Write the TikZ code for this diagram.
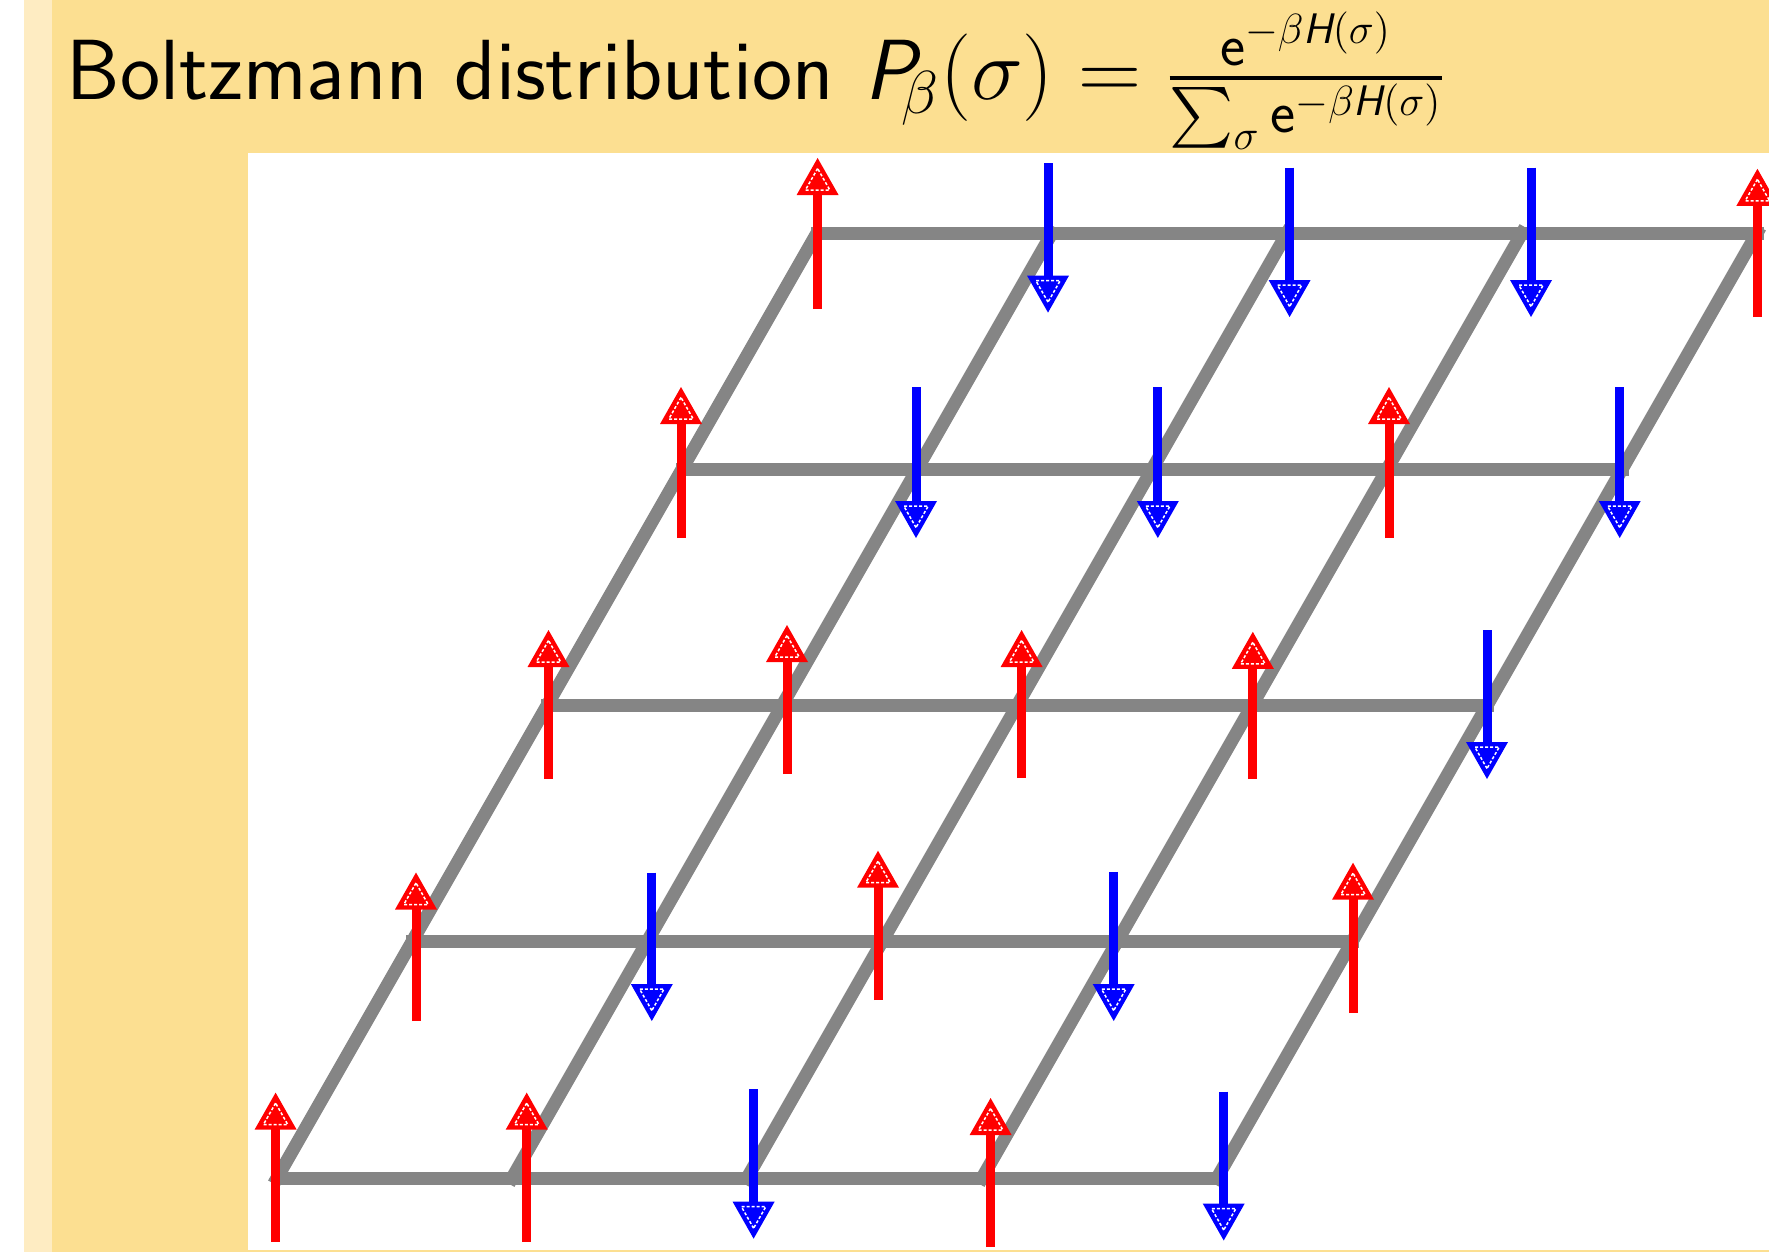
\documentclass[tikz,border=0pt]{standalone}
\usepackage{amsmath}
\definecolor{slideyellow}{RGB}{252,223,145}
\definecolor{slidelight}{RGB}{254,236,194}
\definecolor{latgray}{RGB}{133,133,133}
\definecolor{spinred}{RGB}{255,0,0}
\definecolor{spinblue}{RGB}{0,0,255}
\newcommand\sfit[1]{\text{\sffamily\slshape #1}}
\newcommand\sfup[1]{\text{\sffamily #1}}
\tikzset{
  latline/.style={draw=latgray, line width=1.3mm, line cap=rect},
  shaft/.style={line width=0.9mm},
  innerdash/.style={draw=white, line width=0.15mm, dash pattern=on 0.3mm off 0.2mm},
  heading/.style={anchor=base west, inner sep=0pt, font=\sffamily\fontsize{24.3}{29}\selectfont},
}
% up spin: x, tip y, tail y
\newcommand\upspin[3]{%
  \draw[spinred, shaft] (#1,#3) -- (#1,#2+30);
  \fill[spinred] (#1,#2) -- (#1-21,#2+37) -- (#1+21,#2+37) -- cycle;
  \draw[innerdash] (#1,#2+10.5) -- (#1-12.2,#2+32) -- (#1+12.2,#2+32) -- cycle;
}
% down spin: x, tail y, tip y
\newcommand\downspin[3]{%
  \draw[spinblue, shaft] (#1,#2) -- (#1,#3-30);
  \fill[spinblue] (#1,#3) -- (#1-21,#3-37) -- (#1+21,#3-37) -- cycle;
  \draw[innerdash] (#1,#3-10.5) -- (#1-12.2,#3-32) -- (#1+12.2,#3-32) -- cycle;
}
\begin{document}
\begin{tikzpicture}[x=0.1mm,y=-0.1mm]
\useasboundingbox (0,0) rectangle (1769,1252);
\clip (0,0) rectangle (1769,1252);
% slide background
\fill[white] (0,0) rectangle (24,1252);
\fill[slidelight] (24,0) rectangle (52,1252);
\fill[slideyellow] (52,0) rectangle (1769,1252);
\fill[white] (248,153) rectangle (1769,1250);
% heading line
\node[heading] (title) at (66,100) {Boltzmann distribution};
\node[heading] (formula) at (864,100)
  {$\sfit{P}\!_\beta(\sigma) = \frac{\sfup{e}^{-\beta \sfit{H}(\sigma)}}{\sum_\sigma \sfup{e}^{-\beta \sfit{H}(\sigma)}}$};
% lattice vertices
\foreach \i in {0,...,4}{
  \foreach \j in {0,...,4}{
    \coordinate (v-\i-\j) at ({277+235*\i+135*\j},{1178-236.25*\j});
  }
}
\foreach \j in {0,...,4}{ \draw[latline] (v-0-\j) -- (v-4-\j); }
\foreach \i in {0,...,4}{ \draw[latline] (v-\i-0) -- (v-\i-4); }
% spins, row 4 (top)
\upspin{817.6}{158}{309}
\downspin{1048}{163.5}{312.6}
\downspin{1289.6}{167.7}{317}
\downspin{1531}{167.7}{317}
\upspin{1757.4}{168.8}{317}
% row 3
\upspin{681}{387}{538}
\downspin{916}{387}{538}
\downspin{1157.8}{387}{538}
\upspin{1389}{387}{538}
\downspin{1619.7}{387}{538}
% row 2
\upspin{548.5}{630}{779}
\upspin{787}{625}{774}
\upspin{1021.6}{630}{778}
\upspin{1252.8}{631.8}{779}
\downspin{1487}{630}{779}
% row 1
\upspin{416}{872.5}{1021}
\downspin{651.8}{872.5}{1021}
\upspin{878}{850.7}{1000}
\downspin{1113.7}{871.8}{1021}
\upspin{1353}{862.7}{1013}
% row 0 (bottom)
\upspin{275.6}{1092.6}{1241.5}
\upspin{526.7}{1092.6}{1241.5}
\downspin{753.6}{1089}{1238.7}
\upspin{990.6}{1098}{1247}
\downspin{1223.7}{1091.5}{1240.5}
\end{tikzpicture}
\end{document}
